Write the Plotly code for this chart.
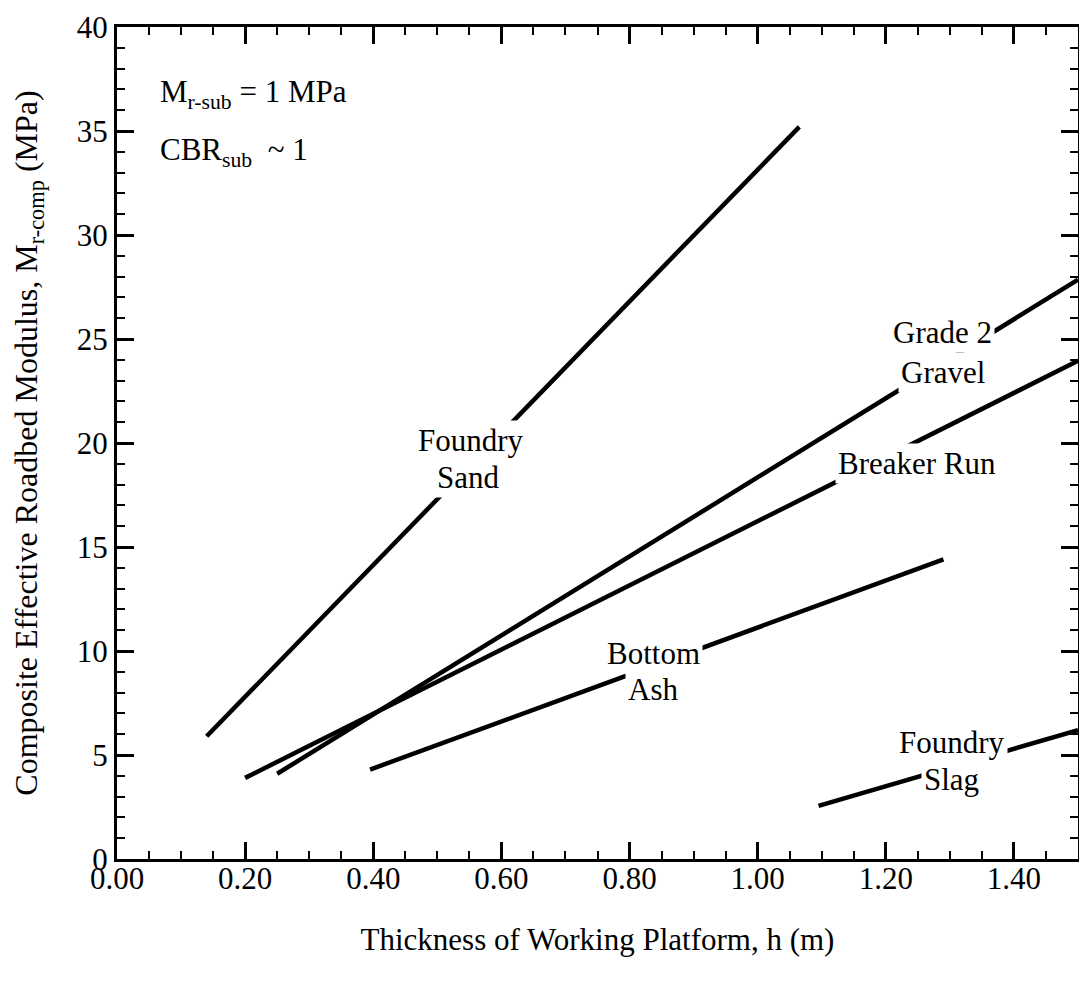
import plotly.graph_objects as go

# ---- data ----
thickness_sand = [0.14, 1.065]
modulus_sand = [5.9, 35.2]
thickness_gravel = [0.25, 1.50]
modulus_gravel = [4.1, 27.85]
thickness_breaker = [0.20, 1.50]
modulus_breaker = [3.9, 23.95]
thickness_ash = [0.395, 1.29]
modulus_ash = [4.3, 14.4]
thickness_slag = [1.095, 1.50]
modulus_slag = [2.55, 6.2]

x_ticks = [0.0, 0.2, 0.4, 0.6, 0.8, 1.0, 1.2, 1.4]
y_ticks = [0, 5, 10, 15, 20, 25, 30, 35, 40]

FONT = "Liberation Serif"
FS = 31

fig = go.Figure()
for xs, ys in [(thickness_sand, modulus_sand), (thickness_gravel, modulus_gravel),
               (thickness_breaker, modulus_breaker), (thickness_ash, modulus_ash),
               (thickness_slag, modulus_slag)]:
    fig.add_trace(go.Scatter(x=xs, y=ys, mode="lines",
                             line=dict(color="black", width=4.5),
                             showlegend=False, hoverinfo="skip"))

labels = [
    ("Foundry", 0.553, 20.1), ("Sand", 0.548, 18.35),
    ("Grade 2", 1.289, 25.3), ("Gravel", 1.289, 23.4),
    ("Breaker Run", 1.249, 19.0),
    ("Bottom", 0.837, 9.9), ("Ash", 0.837, 8.15),
    ("Foundry", 1.303, 5.6), ("Slag", 1.303, 3.8),
]
for txt, x, y in labels:
    fig.add_annotation(x=x, y=y, text=txt, showarrow=False,
                       font=dict(family=FONT, size=FS, color="black"),
                       bgcolor="white", borderpad=2,
                       xanchor="center", yanchor="middle")

fig.add_annotation(x=0.064, y=36.8, text="M<sub>r-sub</sub> = 1 MPa", showarrow=False,
                   font=dict(family=FONT, size=FS, color="black"),
                   xanchor="left", yanchor="middle")
fig.add_annotation(x=0.064, y=34.0, text="CBR<sub>sub</sub>  ~ 1", showarrow=False,
                   font=dict(family=FONT, size=FS, color="black"),
                   xanchor="left", yanchor="middle")

axis_common = dict(showline=True, linecolor="black", linewidth=3, mirror="ticks",
                   ticks="inside", tickcolor="black", tickwidth=3, ticklen=17,
                   showgrid=False, zeroline=False,
                   tickfont=dict(family=FONT, size=FS, color="black"))

fig.update_xaxes(range=[0, 1.5], tickvals=x_ticks,
                 ticktext=[f"{v:.2f}" for v in x_ticks],
                 ticklabelstandoff=-10,
                 minor=dict(dtick=0.05, tick0=0, ticks="inside", ticklen=8,
                            tickwidth=2, tickcolor="black", showgrid=False),
                 title=dict(text="Thickness of Working Platform, h (m)",
                            font=dict(family=FONT, size=FS, color="black"),
                            standoff=34),
                 **axis_common)
fig.update_yaxes(range=[0, 40], tickvals=y_ticks,
                 minor=dict(dtick=1, tick0=0, ticks="inside", ticklen=8,
                            tickwidth=2, tickcolor="black", showgrid=False),
                 title=dict(text="Composite Effective Roadbed Modulus, M<sub>r-comp</sub> (MPa)",
                            font=dict(family=FONT, size=32, color="black"),
                            standoff=33),
                 **axis_common)

# page body has an 8px default margin, so the figure is offset by 8px
fig.update_layout(width=1079, height=986,
                  margin=dict(l=109, r=9, t=19, b=135, autoexpand=False),
                  plot_bgcolor="white", paper_bgcolor="white")

fig.write_html("out.html")
